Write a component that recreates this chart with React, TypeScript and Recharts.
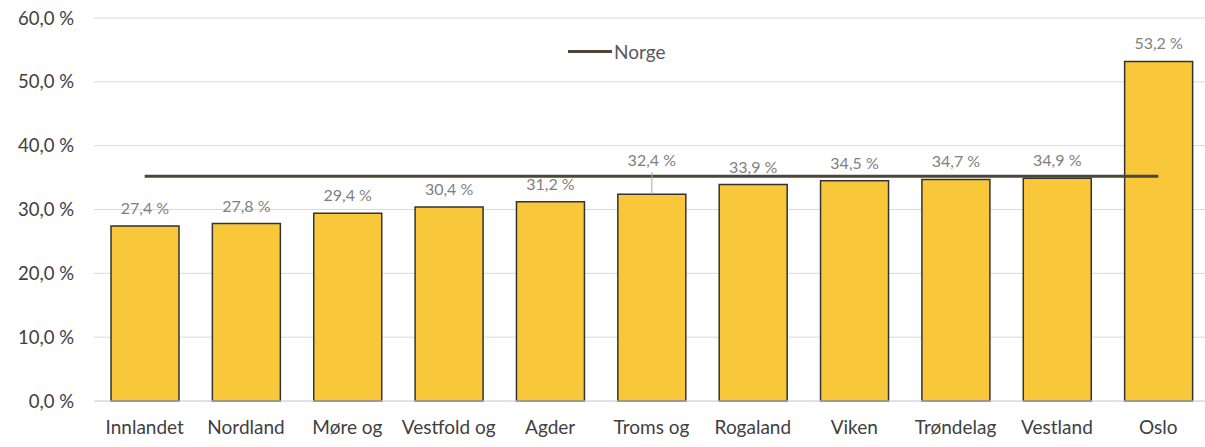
import { ComposedChart, Bar, Line, XAxis, YAxis, CartesianGrid, LabelList } from "recharts";

const regions = ["Innlandet", "Nordland", "Møre og", "Vestfold og", "Agder", "Troms og", "Rogaland", "Viken", "Trøndelag", "Vestland", "Oslo"];
const shares = [27.4, 27.8, 29.4, 30.4, 31.2, 32.4, 33.9, 34.5, 34.7, 34.9, 53.2];
const norge = 35.2;
const yTicks = [0, 10, 20, 30, 40, 50, 60];

const data = regions.map((name, i) => ({ name, share: shares[i], norge }));

const FONT = "Lato, 'Open Sans', sans-serif";
const fmt = (v: number) => `${v.toFixed(1).replace(".", ",")} %`;

function BarLabel(props: any) {
  const { x, y, width, value, index } = props;
  const cx = x + width / 2;
  // Troms og label is pushed up above the Norge line, with a leader line
  const lifted = index === 5;
  const ty = lifted ? y - 28 : y - 12;
  return (
    <g>
      {lifted && <line x1={cx} y1={ty + 6} x2={cx} y2={y} stroke="#a6a6a6" strokeWidth={1} />}
      <text x={cx} y={ty} textAnchor="middle" fill="#7f7f7f" fontSize={16} fontFamily={FONT}>
        {fmt(value)}
      </text>
    </g>
  );
}

export default function App() {
  return (
    <div style={{ position: "absolute", left: 0, top: 0, width: 1205, height: 447, overflow: "hidden", background: "#fff" }}>
      <ComposedChart width={1215} height={447} data={data} margin={{ top: 18, right: 6, bottom: 16, left: 0 }}>
        <CartesianGrid vertical={false} stroke="#d9d9d9" strokeWidth={1} />
        <XAxis
          dataKey="name"
          axisLine={{ stroke: "#d9d9d9" }}
          tickLine={false}
          height={30}
          interval={0}
          tick={{ fill: "#404040", fontSize: 19, fontFamily: FONT }}
          tickMargin={14}
        />
        <YAxis
          domain={[0, 60]}
          ticks={yTicks}
          width={94}
          axisLine={false}
          tickLine={false}
          tickSize={0}
          tickMargin={20}
          tickFormatter={fmt}
          tick={{ fill: "#404040", fontSize: 18.5, fontFamily: FONT }}
        />
        <Bar dataKey="share" barSize={68} fill="#f9c73a" stroke="#333333" strokeWidth={1.5} isAnimationActive={false}>
          <LabelList dataKey="share" content={<BarLabel />} />
        </Bar>
        <Line dataKey="norge" type="linear" stroke="#4d4636" strokeWidth={3} dot={false} isAnimationActive={false} />
      </ComposedChart>
      <div
        style={{
          position: "absolute",
          top: 40,
          left: 568,
          display: "flex",
          alignItems: "center",
          fontFamily: FONT,
          fontSize: 19,
          color: "#595959",
        }}
      >
        <span style={{ display: "inline-block", width: 44, height: 3, background: "#4d4636", marginRight: 2 }} />
        Norge
      </div>
    </div>
  );
}
